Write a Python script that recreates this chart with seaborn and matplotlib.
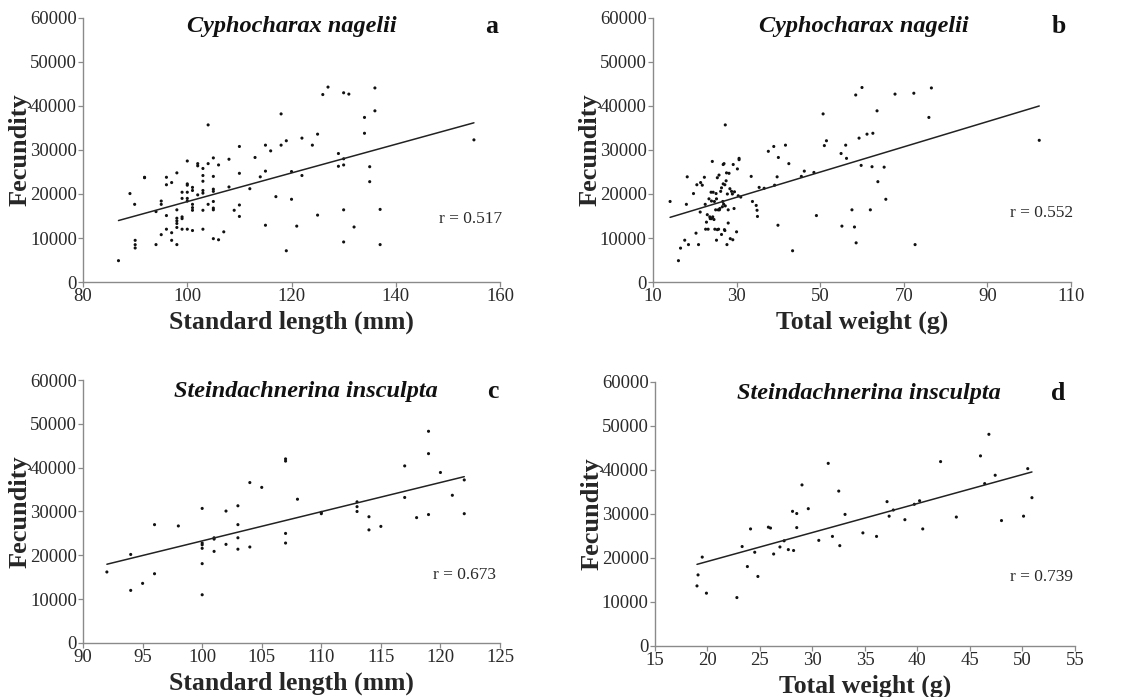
import matplotlib
matplotlib.use("Agg")
import matplotlib.pyplot as plt
import seaborn as sns
import pandas as pd

# panel a: Cyphocharax nagelii, standard length (mm) vs fecundity
sl_cn = [86.8, 89, 89.9, 90, 90, 90, 91.8, 91.8, 94, 94, 95, 95, 95,
         96, 96, 96, 96, 97, 97, 97, 98, 98, 98, 98, 98, 98, 98,
         99, 99, 99, 99, 99, 100, 100, 100, 100, 100, 100, 100,
         101, 101, 101, 101, 101, 101, 102, 102, 102,
         103, 103, 103, 103, 103, 103, 103, 104, 104, 104,
         105, 105, 105, 105, 105, 105, 105, 105, 106, 106, 107, 108, 108, 109,
         110, 110, 110, 110, 112, 113, 114, 115, 115, 115, 116, 117, 118, 118,
         119, 119, 120, 120, 121, 122, 122, 124, 125, 125, 126, 127, 129, 129,
         130, 130, 130, 130, 130, 131, 132, 134, 134, 135, 135, 136, 136, 137, 137, 155]
fec_cn_a = [4850, 20100, 17650, 9470, 8480, 7730, 23800, 23700, 16000, 8500, 18400, 17650, 10760,
            23800, 22100, 15100, 12000, 22600, 11200, 9470, 24800, 16400, 14500, 13900, 13300, 12400, 8500,
            20400, 19000, 14800, 14400, 12000, 27500, 22300, 22000, 20400, 19000, 18400, 12000,
            21500, 20800, 17650, 16900, 16300, 11700, 26900, 26400, 19800,
            25800, 24200, 22900, 20800, 20200, 16300, 12000, 35700, 26900, 17650,
            28200, 24000, 21100, 20600, 18300, 16800, 16400, 9850, 26600, 9600, 11400, 27900, 21600, 16300,
            30800, 24700, 17500, 14900, 21200, 28300, 23900, 31100, 25200, 12900, 29800, 19400, 38200, 31100,
            32100, 7100, 25100, 18800, 12700, 32700, 24200, 31100, 33600, 15200, 42600, 44300, 29200, 26300,
            43000, 28000, 26600, 16400, 9100, 42700, 12500, 37400, 33800, 26200, 22800, 44100, 38900, 16500, 8500, 32300]

# panel b: Cyphocharax nagelii, total weight (g) vs fecundity
tw_cn = [14.1, 16.1, 16.6, 17.6, 18.0, 18.2, 18.5, 19.7, 20.3, 20.5, 20.9, 21.3, 21.4, 21.8,
         22.3, 22.5, 22.6, 22.8, 23.0, 23.2, 23.4, 23.6, 23.7, 23.9, 24.0, 24.0, 24.2, 24.3,
         24.4, 24.6, 24.7, 24.8, 25.0, 25.1, 25.2, 25.2, 25.4, 25.4, 25.6, 25.7, 25.8, 25.9,
         26.0, 26.2, 26.4, 26.4, 26.6, 26.7, 26.8, 26.8, 26.9, 27.0, 27.1, 27.2, 27.2, 27.3,
         27.3, 27.5, 27.6, 27.7, 27.8, 28.0, 28.0, 28.2, 28.4, 28.5, 28.8, 29.0, 29.1, 29.2,
         29.4, 29.5, 30.0, 30.2, 30.4, 30.6, 30.6, 31.0, 33.5, 33.8, 34.7, 34.9, 35.0, 35.4,
         36.6, 37.6, 38.9, 39.1, 39.7, 40.0, 39.9, 41.7, 42.5, 43.4, 45.5, 46.2, 48.5, 49.1,
         50.7, 51.0, 51.5, 55.0, 55.2, 56.1, 56.3, 57.6, 58.2, 58.5, 58.6, 59.3, 59.8, 60.0,
         61.2, 62.0, 62.4, 62.6, 63.6, 63.8, 65.3, 65.7, 67.9, 72.4, 72.7, 76.0, 76.6, 102.4]
fec_cn_b = [18300, 4850, 7700, 9500, 17650, 23900, 8500, 20100, 11100, 22100, 8500, 15900, 22600, 22000,
            23800, 17650, 12000, 13600, 15300, 12000, 18900, 14800, 14400, 20400, 18400, 14400, 27400, 14800,
            20400, 14200, 18300, 12000, 16400, 20100, 18900, 9500, 11900, 23700, 16400, 12000, 24300, 16400,
            16700, 20600, 10800, 21400, 17100, 18300, 26700, 22300, 17700, 26900, 11900, 11700, 22100, 35700,
            17300, 23000, 24800, 8500, 20000, 13400, 16400, 24700, 21200, 9850, 20600, 20000, 9600, 26700,
            16700, 20500, 11400, 25700, 19600, 28100, 27800, 19300, 24000, 18300, 17400, 16300, 14900, 21500,
            21300, 29700, 30800, 22000, 23900, 28300, 12900, 31100, 26900, 7100, 24000, 25200, 24900, 15100,
            38200, 31000, 32100, 29200, 12700, 31100, 28100, 16400, 12500, 42500, 8900, 32700, 26500, 44200,
            33600, 16400, 26200, 33800, 38900, 22800, 26100, 18800, 42700, 42900, 8500, 37400, 44100, 32200]

# panel c: Steindachnerina insculpta, standard length (mm) vs fecundity
sl_si = [92, 94, 94, 95, 96, 96, 98, 100, 100, 100, 100, 100, 100, 101, 101, 101, 102, 102,
         103, 103, 103, 103, 104, 104, 105, 107, 107, 107, 107, 108, 110, 110, 113, 113, 113,
         114, 114, 115, 117, 117, 118, 119, 119, 119, 120, 121, 122, 122]
fec_si_c = [16200, 20200, 12000, 13600, 27000, 15800, 26700, 30700, 22800, 22400, 21600, 18100, 11000,
            24000, 23700, 20900, 30100, 22500, 31300, 27000, 24000, 21400, 36600, 21900, 35500,
            42000, 41500, 25000, 22800, 32800, 29800, 29500, 32200, 31100, 30000, 28800, 25800, 26600,
            40400, 33200, 28600, 48300, 43200, 29300, 38900, 33700, 37200, 29500]

# panel d: Steindachnerina insculpta, total weight (g) vs fecundity
tw_si = [19.0, 19.1, 19.5, 19.9, 22.8, 23.3, 23.8, 24.1, 24.5, 24.8, 25.8, 26.0, 26.3, 26.9,
         27.3, 27.7, 28.1, 28.2, 28.5, 28.5, 29.0, 29.6, 30.6, 31.5, 31.9, 32.5, 32.6, 33.1,
         34.8, 36.1, 37.1, 37.3, 37.7, 38.8, 39.7, 40.2, 40.5, 42.2, 43.7, 46.0, 46.4, 46.8,
         47.4, 48.0, 50.1, 50.5, 50.9]
fec_si_d = [13650, 16150, 20200, 12000, 11000, 22600, 18050, 26600, 21300, 15800, 27000, 26800, 20900,
            22500, 23900, 21900, 30600, 21700, 26900, 30100, 36600, 31200, 24000, 41500, 24900, 35200,
            22800, 29900, 25700, 24900, 32800, 29500, 30900, 28700, 32200, 33000, 26600, 41900, 29300,
            43200, 36900, 48100, 38800, 28500, 29500, 40300, 33700]

species = ["Cyphocharax nagelii", "Cyphocharax nagelii",
           "Steindachnerina insculpta", "Steindachnerina insculpta"]
panel_letters = ["a", "b", "c", "d"]
x_labels = ["Standard length (mm)", "Total weight (g)",
            "Standard length (mm)", "Total weight (g)"]
r_values = ["r = 0.517", "r = 0.552", "r = 0.673", "r = 0.739"]
x_ticks = [[80, 100, 120, 140, 160], [10, 30, 50, 70, 90, 110],
           [90, 95, 100, 105, 110, 115, 120, 125], [15, 20, 25, 30, 35, 40, 45, 50, 55]]
y_ticks = [0, 10000, 20000, 30000, 40000, 50000, 60000]

sns.set_style("ticks")
plt.rcParams['font.family'] = ['Liberation Serif', 'DejaVu Serif']

fig = plt.figure(figsize=(11.33, 6.97), dpi=100)
positions = [
    [0.0733, 0.5954, 0.368, 0.3788],
    [0.5763, 0.5954, 0.369, 0.3788],
    [0.0733, 0.0775, 0.368, 0.3773],
    [0.5781, 0.0732, 0.3707, 0.3788],
]
title_x = [0.50, 0.505, 0.535, 0.509]
title_y = [0.966, 0.966, 0.958, 0.958]
letter_x = [0.98, 0.971, 0.983, 0.961]
r_pos = [(1.005, 0.239), (1.005, 0.261), (0.99, 0.259), (0.995, 0.261)]

data = [
    pd.DataFrame({"x": sl_cn, "y": fec_cn_a}),
    pd.DataFrame({"x": tw_cn, "y": fec_cn_b}),
    pd.DataFrame({"x": sl_si, "y": fec_si_c}),
    pd.DataFrame({"x": tw_si, "y": fec_si_d}),
]

for i, df in enumerate(data):
    ax = fig.add_axes(positions[i])
    sns.scatterplot(data=df, x="x", y="y", ax=ax, s=5, color="#111111",
                    edgecolor="none", linewidth=0)
    sns.regplot(data=df, x="x", y="y", ax=ax, scatter=False, ci=None,
                line_kws=dict(color="#222222", lw=1.1))

    ax.set_xlim(x_ticks[i][0], x_ticks[i][-1])
    ax.set_ylim(0, 60000)
    ax.set_xticks(x_ticks[i])
    ax.set_yticks(y_ticks)
    ax.set_xlabel(x_labels[i], fontsize=18.5, fontweight='bold', labelpad=4)
    ax.set_ylabel('Fecundity', fontsize=19, fontweight='bold', labelpad=-1)

    for side in ['top', 'right']:
        ax.spines[side].set_visible(False)
    for side in ['left', 'bottom']:
        ax.spines[side].set_color('#8a8a8a')
        ax.spines[side].set_linewidth(1.0)
    ax.tick_params(axis='both', labelsize=13.5, colors='#8a8a8a',
                   labelcolor='#2a2a2a', length=3.5, width=0.9, pad=1)

    ax.text(title_x[i], title_y[i], species[i], transform=ax.transAxes,
            ha='center', va='center', fontsize=17.5, fontweight='bold',
            fontstyle='italic', color='#111111')
    ax.text(letter_x[i], title_y[i], panel_letters[i], transform=ax.transAxes,
            ha='center', va='center', fontsize=18.5, fontweight='bold', color='#111111')
    ax.text(r_pos[i][0], r_pos[i][1], r_values[i], transform=ax.transAxes,
            ha='right', va='center', fontsize=12.5, color='#2a2a2a')

fig.savefig("out.png", dpi=100)
